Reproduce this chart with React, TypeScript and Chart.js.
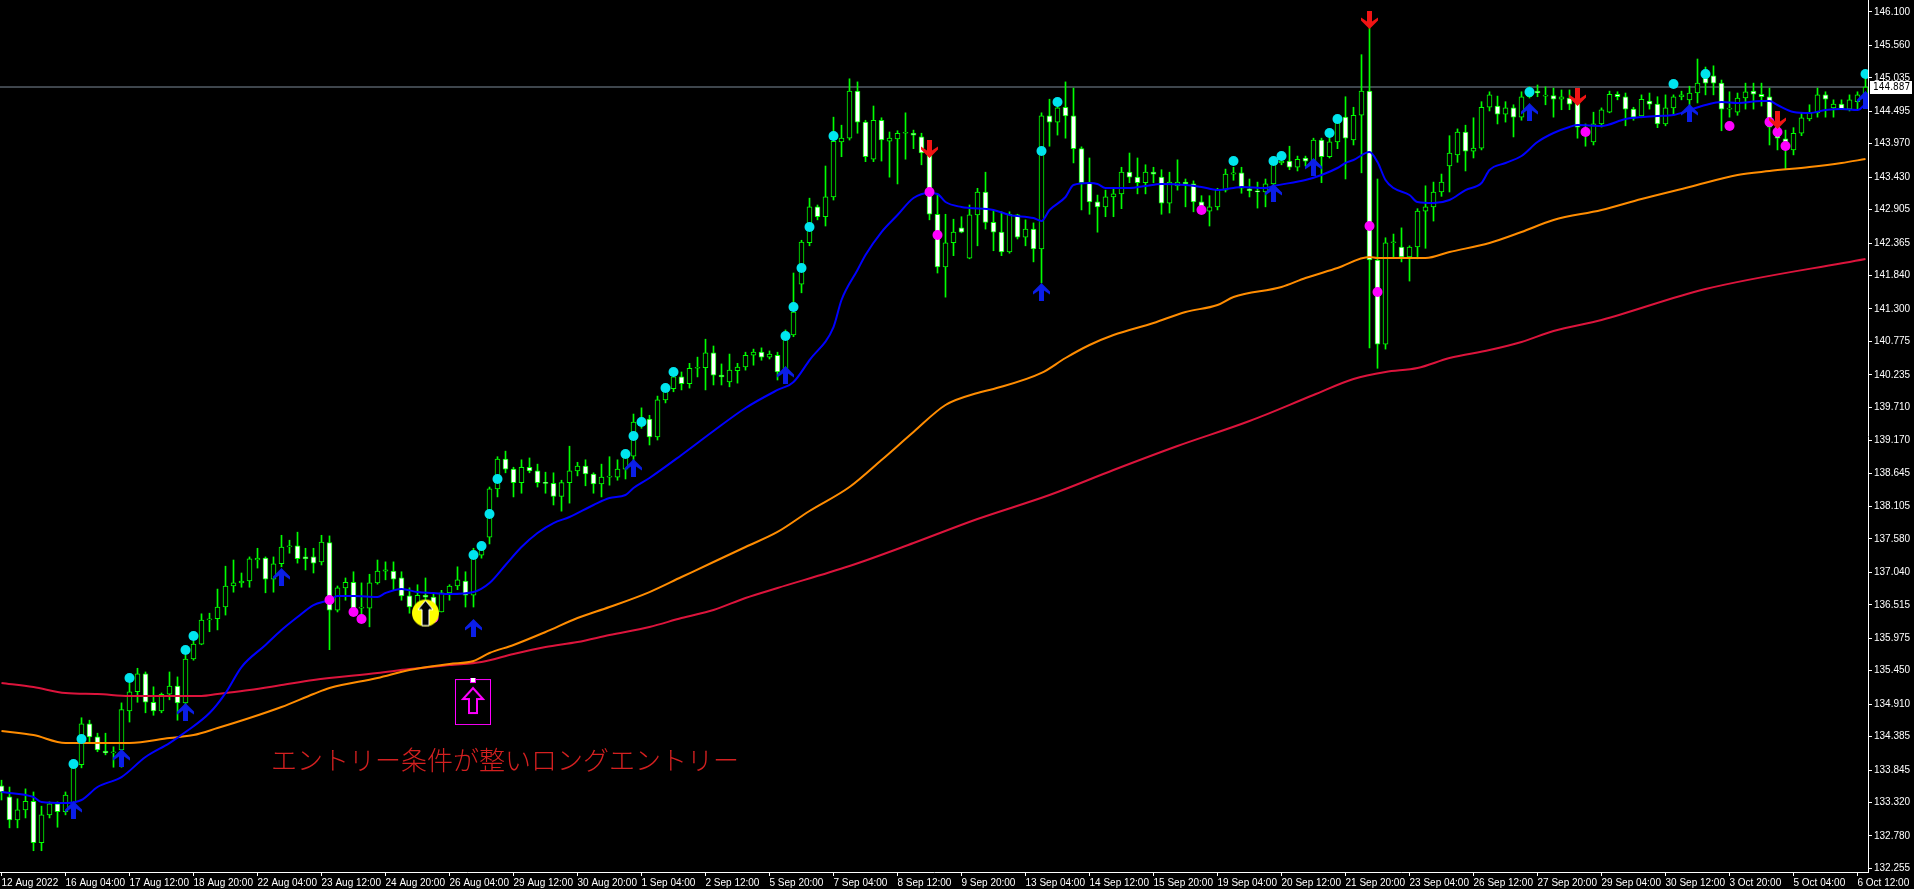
import React, { useEffect, useRef } from "react";
import { Chart, registerables } from "chart.js";
Chart.register(...registerables);

const timeLabels = [
  "12 Aug 2022", "16 Aug 04:00", "17 Aug 12:00", "18 Aug 20:00", "22 Aug 04:00", "23 Aug 12:00",
  "24 Aug 20:00", "26 Aug 04:00", "29 Aug 12:00", "30 Aug 20:00", "1 Sep 04:00", "2 Sep 12:00",
  "5 Sep 20:00", "7 Sep 04:00", "8 Sep 12:00", "9 Sep 20:00", "13 Sep 04:00", "14 Sep 12:00",
  "15 Sep 20:00", "19 Sep 04:00", "20 Sep 12:00", "21 Sep 20:00", "23 Sep 04:00", "26 Sep 12:00",
  "27 Sep 20:00", "29 Sep 04:00", "30 Sep 12:00", "3 Oct 20:00", "5 Oct 04:00", "6 Oct 12:00",
];

const priceTicks = [
  146.1, 145.56, 145.035, 144.495, 143.97, 143.43, 142.905, 142.365, 141.84, 141.3, 140.775,
  140.235, 139.71, 139.17, 138.645, 138.105, 137.58, 137.04, 136.515, 135.975, 135.45, 134.91,
  134.385, 133.845, 133.32, 132.78, 132.255,
];

const open = [
  133.59,133.41,133.04,133.20,133.34,132.67,133.12,133.30,133.17,133.31,
  133.93,134.59,134.38,134.15,134.12,134.17,134.80,135.11,135.40,134.94,
  134.80,135.07,135.20,134.93,135.64,135.88,136.27,136.29,136.48,136.82,
  136.87,136.90,137.24,137.27,136.93,137.18,137.45,137.47,137.29,137.29,
  137.21,137.52,136.43,136.79,136.88,136.46,136.46,136.87,137.06,137.06,
  136.95,136.66,136.48,136.67,136.64,136.40,136.71,136.82,136.90,136.67,
  137.32,137.61,138.39,138.87,138.71,138.49,138.74,138.68,138.49,138.48,
  138.27,138.49,138.68,138.76,138.63,138.47,138.58,138.58,138.71,138.92,
  139.47,139.52,139.23,139.83,140.01,140.20,140.09,140.34,140.35,140.59,
  140.23,140.12,140.30,140.36,140.55,140.60,140.52,140.55,140.28,140.88,
  141.70,142.37,142.95,142.79,143.11,144.00,144.06,144.82,144.32,143.72,
  144.35,144.01,144.05,144.14,144.14,144.08,143.80,142.83,141.98,142.37,
  142.61,142.12,142.82,143.19,142.70,142.54,142.22,142.82,142.46,142.59,
  142.27,144.42,144.32,144.56,144.42,143.89,143.34,143.03,142.95,143.11,
  143.16,143.51,143.43,143.34,143.51,143.43,143.01,143.29,143.35,143.32,
  143.03,142.88,142.95,143.22,143.48,143.50,143.24,143.21,143.19,143.32,
  143.66,143.69,143.59,143.74,143.69,144.03,143.76,144.00,144.40,144.03,
  144.43,144.82,142.09,140.73,142.37,142.30,142.14,142.30,142.88,142.95,
  143.19,143.61,143.79,144.16,143.85,143.90,144.56,144.58,144.45,144.55,
  144.40,144.73,144.82,144.74,144.75,144.69,144.71,144.63,144.14,144.00,
  144.29,144.48,144.77,144.73,144.53,144.42,144.66,144.61,144.29,144.55,
  144.73,144.68,144.79,145.03,145.07,144.95,144.53,144.48,144.71,144.82,
  144.77,144.73,144.24,144.05,143.87,144.14,144.37,144.47,144.76,144.55,
  144.61,144.53,144.65,144.76,
];

const high = [
  133.68,133.57,133.38,133.54,133.49,133.26,133.33,133.33,133.49,133.93,
  134.69,134.65,134.44,134.44,134.22,134.93,135.25,135.49,135.43,135.19,
  135.09,135.43,135.35,135.70,135.93,136.37,136.38,136.77,137.14,137.24,
  137.03,137.29,137.43,137.29,137.29,137.64,137.56,137.69,137.43,137.43,
  137.64,137.63,136.82,136.95,137.05,136.87,137.01,137.24,137.21,137.21,
  137.05,136.79,136.84,136.95,136.71,136.75,136.84,137.13,137.05,137.43,
  137.45,138.42,138.91,139.00,138.74,138.86,138.89,138.79,138.66,138.65,
  138.53,139.08,138.82,138.86,138.65,138.79,138.91,138.86,138.99,139.60,
  139.70,139.58,139.89,140.09,140.28,140.28,140.42,140.52,140.81,140.70,
  140.41,140.57,140.42,140.60,140.65,140.67,140.62,140.60,140.96,141.88,
  142.41,143.09,142.98,143.61,144.40,144.27,145.02,144.97,144.35,144.58,
  144.39,144.16,144.18,144.47,144.19,144.14,143.87,143.14,142.83,142.75,
  142.79,142.98,143.25,143.51,142.88,142.87,142.87,142.83,142.74,142.69,
  144.47,144.69,144.65,144.97,144.87,143.92,143.74,143.14,143.22,143.24,
  143.59,143.82,143.74,143.63,143.59,143.55,143.51,143.71,143.40,143.37,
  143.13,143.13,143.25,143.56,143.59,143.59,143.40,143.35,143.40,143.76,
  143.82,143.93,143.77,143.77,144.06,144.06,144.08,144.43,144.73,144.56,
  145.41,145.84,143.40,142.45,142.51,142.61,142.32,142.92,143.29,143.35,
  143.48,144.10,144.21,144.27,144.39,144.65,144.81,144.74,144.65,144.60,
  144.81,144.89,144.92,144.89,144.87,144.84,144.84,144.68,144.29,144.48,
  144.55,144.82,144.81,144.79,144.56,144.76,144.79,144.73,144.76,144.76,
  144.82,144.90,145.34,145.21,145.23,145.00,144.81,144.79,144.95,144.95,
  144.95,144.87,144.27,144.19,144.23,144.47,144.60,144.87,144.81,144.68,
  144.68,144.76,144.81,145.03,
];

const low = [
  133.36,132.91,132.91,133.07,132.54,132.54,133.07,132.92,133.12,133.23,
  133.88,134.28,134.14,134.09,133.89,133.89,134.62,134.94,134.77,134.73,
  134.77,134.98,134.65,134.65,135.62,135.87,136.08,136.11,136.35,136.72,
  136.80,136.80,137.11,136.71,136.72,137.13,137.35,137.19,137.08,137.03,
  137.16,135.79,136.40,136.59,136.40,136.27,136.16,136.85,136.92,136.76,
  136.59,136.38,136.43,136.51,136.35,136.40,136.59,136.76,136.48,136.48,
  137.27,137.50,138.26,138.65,138.26,138.32,138.65,138.42,138.32,138.13,
  138.03,138.16,138.60,138.44,138.32,138.26,138.45,138.53,138.55,138.70,
  139.37,139.10,139.18,139.78,139.96,139.99,140.02,140.20,139.99,140.07,
  140.07,140.04,140.10,140.31,140.39,140.47,140.49,140.15,140.18,140.85,
  141.56,142.32,142.74,142.64,143.06,143.76,144.03,144.14,143.68,143.68,
  143.69,143.43,143.32,143.72,143.89,143.63,142.74,141.88,141.49,142.16,
  142.53,142.11,142.32,142.59,142.24,142.16,142.20,142.43,142.32,142.06,
  141.72,143.93,144.11,144.06,143.66,142.90,142.83,142.54,142.79,142.79,
  142.92,143.34,143.16,143.16,143.34,142.83,142.85,143.22,142.95,142.87,
  142.90,142.64,142.90,143.19,143.38,143.17,143.11,142.93,142.95,143.30,
  143.63,143.55,143.53,143.61,143.66,143.34,143.74,143.89,143.40,143.95,
  143.50,140.67,140.34,140.65,142.12,142.06,141.75,142.11,142.28,142.72,
  143.12,143.19,143.67,143.53,143.74,143.87,144.50,144.29,144.32,144.08,
  144.35,144.71,144.73,144.60,144.40,144.52,144.52,144.06,143.93,143.95,
  144.24,144.47,144.68,144.26,144.35,144.39,144.53,144.23,144.26,144.43,
  144.68,144.55,144.63,144.76,144.76,144.18,144.40,144.43,144.53,144.53,
  144.58,143.95,143.87,143.56,143.79,144.10,144.34,144.40,144.40,144.40,
  144.52,144.50,144.52,144.55,
];

const close = [
  133.49,133.04,133.20,133.34,132.67,133.12,133.30,133.17,133.44,133.88,
  134.59,134.38,134.17,134.12,134.14,134.82,135.11,135.40,134.94,134.80,
  135.07,135.20,134.93,135.64,135.88,136.27,136.29,136.48,136.82,136.87,
  136.90,137.26,137.27,136.93,137.18,137.45,137.47,137.26,137.26,137.19,
  137.53,136.43,136.79,136.88,136.46,136.48,136.87,137.06,137.08,136.93,
  136.66,136.48,136.67,136.64,136.46,136.71,136.82,136.92,136.67,137.30,
  137.40,138.39,138.87,138.71,138.49,138.74,138.68,138.49,138.48,138.27,
  138.49,138.68,138.76,138.63,138.47,138.58,138.59,138.71,138.90,139.47,
  139.54,139.23,139.83,140.01,140.20,140.09,140.34,140.35,140.59,140.23,
  140.20,140.31,140.36,140.55,140.60,140.52,140.57,140.28,140.88,141.25,
  142.38,142.95,142.79,143.11,144.01,144.06,144.82,144.32,143.76,144.35,
  144.03,144.06,144.14,144.15,144.11,143.82,142.83,141.98,142.37,142.54,
  142.54,142.82,143.19,142.70,142.54,142.22,142.83,142.46,142.59,142.27,
  144.42,144.32,144.55,144.42,143.89,143.34,143.03,142.95,143.11,143.16,
  143.51,143.43,143.34,143.51,143.48,143.01,143.35,143.35,143.32,143.03,
  142.95,142.95,143.22,143.48,143.50,143.25,143.21,143.19,143.32,143.68,
  143.69,143.59,143.72,143.69,144.03,143.76,144.00,144.31,144.06,144.43,
  144.82,142.09,140.73,142.37,142.38,142.14,142.30,142.88,142.95,143.19,
  143.35,143.82,144.16,143.85,143.90,144.56,144.76,144.45,144.55,144.40,
  144.73,144.84,144.79,144.75,144.69,144.73,144.61,144.24,144.22,144.29,
  144.52,144.77,144.73,144.53,144.40,144.69,144.61,144.29,144.55,144.73,
  144.76,144.79,144.95,144.95,144.95,144.53,144.54,144.71,144.81,144.77,
  144.73,144.24,144.06,144.00,144.14,144.39,144.47,144.76,144.69,144.61,
  144.53,144.68,144.76,144.887,
];

// Moving averages (bar index, price)
const blueIdx = [0,4,5,8,10,12,15,18,21,23,26,28,30,33,35,37,39,41,42,44,47,48,50,52,54,56,59,61,63,65,67,69,71,74,76,78,79,81,85,89,93,97,99,101,104,105,107,108,110,112,114,116,117,118,120,121,124,126,129,130,131,133,134,136,137,138,141,143,145,148,150,152,154,155,158,159,163,165,167,168,169,171,172,173,174,176,177,179,181,183,185,186,188,190,192,194,196,197,200,203,205,207,209,211,213,215,217,220,221,222,224,226,228,230,232,233];
const blueVal = [133.489,133.408,133.327,133.311,133.36,133.57,133.731,134.055,134.281,134.459,134.766,135.089,135.51,135.866,136.108,136.318,136.512,136.593,136.658,136.658,136.642,136.706,136.771,136.722,136.706,136.69,136.722,136.868,137.159,137.45,137.677,137.838,137.935,138.129,138.242,138.291,138.404,138.566,138.938,139.326,139.698,139.989,140.118,140.473,141.007,141.444,141.929,142.171,142.543,142.818,143.093,143.174,143.157,143.028,142.947,142.931,142.899,142.818,142.769,142.721,142.899,143.109,143.303,143.335,143.319,143.254,143.254,143.287,143.319,143.303,143.271,143.222,143.254,143.271,143.254,143.287,143.384,143.465,143.578,143.659,143.707,143.837,143.675,143.384,143.254,143.141,143.028,143.012,143.06,143.222,143.335,143.545,143.659,143.772,143.998,144.144,144.241,144.273,144.257,144.37,144.402,144.419,144.435,144.516,144.596,144.645,144.629,144.661,144.661,144.596,144.483,144.467,144.516,144.532,144.516,144.613];

const orangeIdx = [0,4,8,12,16,21,24,27,31,35,39,41,47,51,56,59,61,64,68,72,76,81,85,89,93,97,101,106,110,114,118,122,124,130,133,136,139,144,148,152,154,160,163,167,171,172,178,181,186,190,194,200,205,211,217,221,226,230,233];
const orangeVal = [134.475,134.41,134.281,134.281,134.281,134.362,134.41,134.523,134.685,134.863,135.073,135.17,135.332,135.461,135.558,135.607,135.736,135.866,136.076,136.302,136.48,136.722,136.965,137.208,137.45,137.693,138.032,138.42,138.857,139.31,139.746,139.94,140.005,140.264,140.506,140.716,140.878,141.072,141.25,141.363,141.492,141.654,141.799,141.961,142.139,142.123,142.123,142.22,142.365,142.543,142.737,142.899,143.077,143.271,143.465,143.529,143.594,143.659,143.723];

const redIdx = [0,4,8,12,16,21,25,27,31,35,39,47,51,56,60,64,68,72,76,81,85,89,93,97,106,114,122,131,139,147,156,164,169,173,177,181,186,190,194,200,213,233];
const redVal = [135.251,135.186,135.089,135.073,135.041,135.041,135.041,135.073,135.138,135.218,135.299,135.413,135.477,135.542,135.59,135.72,135.833,135.914,136.027,136.157,136.302,136.432,136.626,136.787,137.143,137.515,137.903,138.291,138.695,139.083,139.487,139.908,140.166,140.28,140.344,140.506,140.635,140.765,140.942,141.121,141.621,142.106];

// Signal markers
const cyanIdx = [9,10,16,23,24,59,60,61,62,78,79,80,83,84,98,99,100,101,104,130,132,154,159,160,166,167,191,209,213,233];
const cyanVal = [133.942,134.346,135.332,135.785,136.011,137.321,137.466,137.983,138.55,138.954,139.245,139.471,140.021,140.28,140.862,141.33,141.961,142.624,144.095,143.853,144.645,143.691,143.691,143.772,144.144,144.37,144.807,144.936,145.098,145.098];
const magIdx = [41,44,45,54,116,117,150,171,172,198,216,221,222,223];
const magVal = [136.593,136.399,136.286,136.302,143.19,142.495,142.899,142.64,141.573,144.16,144.257,144.322,144.16,143.934];
const upIdx = [9,15,23,35,59,79,98,130,159,164,191,211,233];
const upVal = [133.198,134.039,134.782,136.965,136.141,138.727,140.231,141.573,143.174,143.594,144.483,144.467,144.677];
const downIdx = [116,171,197,222];
const downVal = [143.885,145.971,144.726,144.354];

const entryIdx = [59];
const entryVal = [134.952];
const circleIdx = [53];
const circleVal = [136.383];

const currentPrice = 144.887;
const noteText = "エントリー条件が整いロングエントリー";
const noteIdx = 33.7;
const notePrice = 134.006;

const Y_MIN = 132.196;
const Y_MAX = 146.294;
const X_MIN = -0.1875;
const X_MAX = 233.3125;

const AXIS_FONT = '"Liberation Sans", Arial, sans-serif';

function makeArrow(color: string, down: boolean): HTMLCanvasElement {
  const c = document.createElement("canvas");
  c.width = 17;
  c.height = 18;
  const g = c.getContext("2d")!;
  const pts: [number, number][] = [
    [8.5, 0], [17, 8.5], [17, 11.5], [11, 7.5], [11, 18], [6, 18], [6, 7.5], [0, 11.5], [0, 8.5],
  ];
  g.beginPath();
  pts.forEach(([x, y], k) => {
    const yy = down ? 18 - y : y;
    if (k === 0) g.moveTo(x, yy);
    else g.lineTo(x, yy);
  });
  g.closePath();
  g.fillStyle = color;
  g.fill();
  return c;
}

function makeYellowCircle(): HTMLCanvasElement {
  const c = document.createElement("canvas");
  c.width = 29;
  c.height = 29;
  const g = c.getContext("2d")!;
  g.beginPath();
  g.arc(14.5, 14.5, 13.5, 0, Math.PI * 2);
  g.fillStyle = "#ffff00";
  g.fill();
  g.beginPath();
  g.moveTo(14.5, 2);
  g.lineTo(22, 11);
  g.lineTo(18, 11);
  g.lineTo(18, 27);
  g.lineTo(11, 27);
  g.lineTo(11, 11);
  g.lineTo(7, 11);
  g.closePath();
  g.fillStyle = "#000";
  g.fill();
  g.strokeStyle = "#fff";
  g.lineWidth = 1;
  g.stroke();
  return c;
}

function makeEntryBox(): HTMLCanvasElement {
  const c = document.createElement("canvas");
  c.width = 37;
  c.height = 47;
  const g = c.getContext("2d")!;
  g.strokeStyle = "#ff00ff";
  g.lineWidth = 1;
  g.strokeRect(0.5, 1.5, 35, 45);
  g.beginPath();
  g.moveTo(18, 10);
  g.lineTo(28, 21);
  g.lineTo(22, 21);
  g.lineTo(22, 35);
  g.lineTo(14, 35);
  g.lineTo(14, 21);
  g.lineTo(8, 21);
  g.closePath();
  g.lineWidth = 2;
  g.stroke();
  g.fillStyle = "#fff";
  g.fillRect(16, 0, 4, 4);
  g.lineWidth = 1;
  g.strokeRect(15.5, -0.5, 5, 5);
  return c;
}

const bgPlugin = {
  id: "bg",
  beforeDraw(chart: any) {
    const { ctx, width, height } = chart;
    ctx.save();
    ctx.fillStyle = "#000";
    ctx.fillRect(0, 0, width, height);
    ctx.restore();
  },
};

const overlayPlugin = {
  id: "overlay",
  afterDatasetsDraw(chart: any) {
    const { ctx } = chart;
    const xs = chart.scales.x;
    const ys = chart.scales.y;
    ctx.save();
    ctx.font = '300 26px "Noto Sans CJK JP", sans-serif';
    ctx.fillStyle = "#d42020";
    ctx.textBaseline = "middle";
    ctx.textAlign = "left";
    ctx.fillText(noteText, xs.getPixelForValue(noteIdx), ys.getPixelForValue(notePrice));
    ctx.restore();
  },
  afterDraw(chart: any) {
    const { ctx, chartArea } = chart;
    const ys = chart.scales.y;
    const yy = Math.round(ys.getPixelForValue(currentPrice));
    ctx.save();
    ctx.fillStyle = "#fff";
    ctx.fillRect(chartArea.right + 2, yy - 6, 42, 13);
    ctx.fillStyle = "#000";
    ctx.font = '10px "DejaVu Sans Condensed", sans-serif';
    ctx.textBaseline = "middle";
    ctx.textAlign = "left";
    ctx.fillText(currentPrice.toFixed(3), chartArea.right + 5, yy + 0.5);
    ctx.restore();
  },
};

export default function App() {
  const ref = useRef<HTMLCanvasElement | null>(null);

  useEffect(() => {
    document.body.style.margin = "0";
    document.body.style.background = "#000";
    const canvas = ref.current;
    if (!canvas) return;

    const upImg = makeArrow("#0b1ee8", false);
    const downImg = makeArrow("#f01414", true);
    const circleImg = makeYellowCircle();
    const boxImg = makeEntryBox();

    const n = open.length;
    const wickData = Array.from({ length: n }, (_, i) => ({ x: i, y: [low[i], high[i]] }));
    const bodyData = Array.from({ length: n }, (_, i) => ({ x: i, y: [open[i], close[i]] }));
    const bodyFill = Array.from({ length: n }, (_, i) => (close[i] < open[i] ? "#ffffff" : "#000000"));
    const pts = (idx: number[], val: number[]) => idx.map((x, k) => ({ x, y: val[k] }));

    const chart = new Chart(canvas, {
      type: "bar",
      data: {
        datasets: [
          {
            type: "line",
            data: [{ x: X_MIN, y: currentPrice }, { x: X_MAX, y: currentPrice }],
            borderColor: "#7d8b99",
            borderWidth: 1,
            pointRadius: 0,
            order: 20,
          } as any,
          {
            type: "bar",
            data: wickData,
            backgroundColor: "#00ff00",
            borderWidth: 0,
            barThickness: 1,
            grouped: false,
            order: 19,
          } as any,
          {
            type: "bar",
            data: bodyData,
            backgroundColor: bodyFill,
            borderColor: "#00ff00",
            borderWidth: 1,
            borderSkipped: false,
            barThickness: 5,
            minBarLength: 1,
            grouped: false,
            order: 18,
          } as any,
          {
            type: "line",
            data: pts(redIdx, redVal),
            borderColor: "#dc143c",
            borderWidth: 2,
            pointRadius: 0,
            cubicInterpolationMode: "monotone",
            order: 17,
          } as any,
          {
            type: "line",
            data: pts(orangeIdx, orangeVal),
            borderColor: "#ff8c00",
            borderWidth: 2,
            pointRadius: 0,
            cubicInterpolationMode: "monotone",
            order: 16,
          } as any,
          {
            type: "line",
            data: pts(blueIdx, blueVal),
            borderColor: "#0000ff",
            borderWidth: 2,
            pointRadius: 0,
            cubicInterpolationMode: "monotone",
            order: 15,
          } as any,
          {
            type: "scatter",
            data: pts(cyanIdx, cyanVal),
            pointStyle: "circle",
            pointRadius: 5,
            backgroundColor: "#00e5ee",
            borderWidth: 0,
            order: 10,
          } as any,
          {
            type: "scatter",
            data: pts(magIdx, magVal),
            pointStyle: "circle",
            pointRadius: 5,
            backgroundColor: "#ff00ff",
            borderWidth: 0,
            order: 9,
          } as any,
          {
            type: "scatter",
            data: pts(upIdx, upVal),
            pointStyle: upImg,
            pointRadius: 5,
            order: 8,
          } as any,
          {
            type: "scatter",
            data: pts(downIdx, downVal),
            pointStyle: downImg,
            pointRadius: 5,
            order: 7,
          } as any,
          {
            type: "scatter",
            data: pts(circleIdx, circleVal),
            pointStyle: circleImg,
            pointRadius: 5,
            order: 6,
          } as any,
          {
            type: "scatter",
            data: pts(entryIdx, entryVal),
            pointStyle: boxImg,
            pointRadius: 5,
            order: 5,
          } as any,
        ],
      },
      options: {
        animation: false,
        responsive: false,
        devicePixelRatio: 1,
        layout: { padding: 0, autoPadding: false },
        plugins: { legend: { display: false }, tooltip: { enabled: false } },
        events: [],
        scales: {
          x: {
            type: "linear",
            min: X_MIN,
            max: X_MAX,
            offset: false,
            afterBuildTicks: (s: any) => {
              s.ticks = timeLabels.map((_, k) => ({ value: k * 8 }));
            },
            afterFit: (s: any) => {
              s.height = 17;
              s.paddingLeft = 0;
              s.paddingRight = 0;
              s.paddingTop = 0;
              s.paddingBottom = 0;
            },
            ticks: {
              color: "#ffffff",
              autoSkip: false,
              maxRotation: 0,
              minRotation: 0,
              align: "start",
              padding: 1,
              font: { family: AXIS_FONT, size: 10 },
              callback: (_v: any, index: number) => timeLabels[index] ?? "",
            },
            grid: { offset: false, drawOnChartArea: false, drawTicks: true, tickLength: 4, color: "#ffffff" },
            border: { display: true, color: "#ffffff", width: 1 },
          },
          y: {
            type: "linear",
            position: "right",
            min: Y_MIN,
            max: Y_MAX,
            beginAtZero: false,
            afterBuildTicks: (s: any) => {
              s.ticks = priceTicks.map((v) => ({ value: v }));
            },
            afterFit: (s: any) => {
              s.width = 46;
              s.paddingTop = 0;
              s.paddingBottom = 0;
              s.paddingLeft = 0;
              s.paddingRight = 0;
            },
            ticks: {
              color: "#ffffff",
              padding: 2,
              font: { family: AXIS_FONT, size: 10 },
              callback: (v: any) => Number(v).toFixed(3),
            },
            grid: { drawOnChartArea: false, drawTicks: true, tickLength: 4, color: "#ffffff" },
            border: { display: true, color: "#ffffff", width: 1 },
          },
        },
      } as any,
      plugins: [bgPlugin, overlayPlugin],
    });

    return () => chart.destroy();
  }, []);

  return (
    <div style={{ position: "fixed", left: 0, top: 0, width: 1914, height: 889, background: "#000" }}>
      <canvas ref={ref} width={1914} height={889} style={{ display: "block", width: 1914, height: 889 }} />
    </div>
  );
}
